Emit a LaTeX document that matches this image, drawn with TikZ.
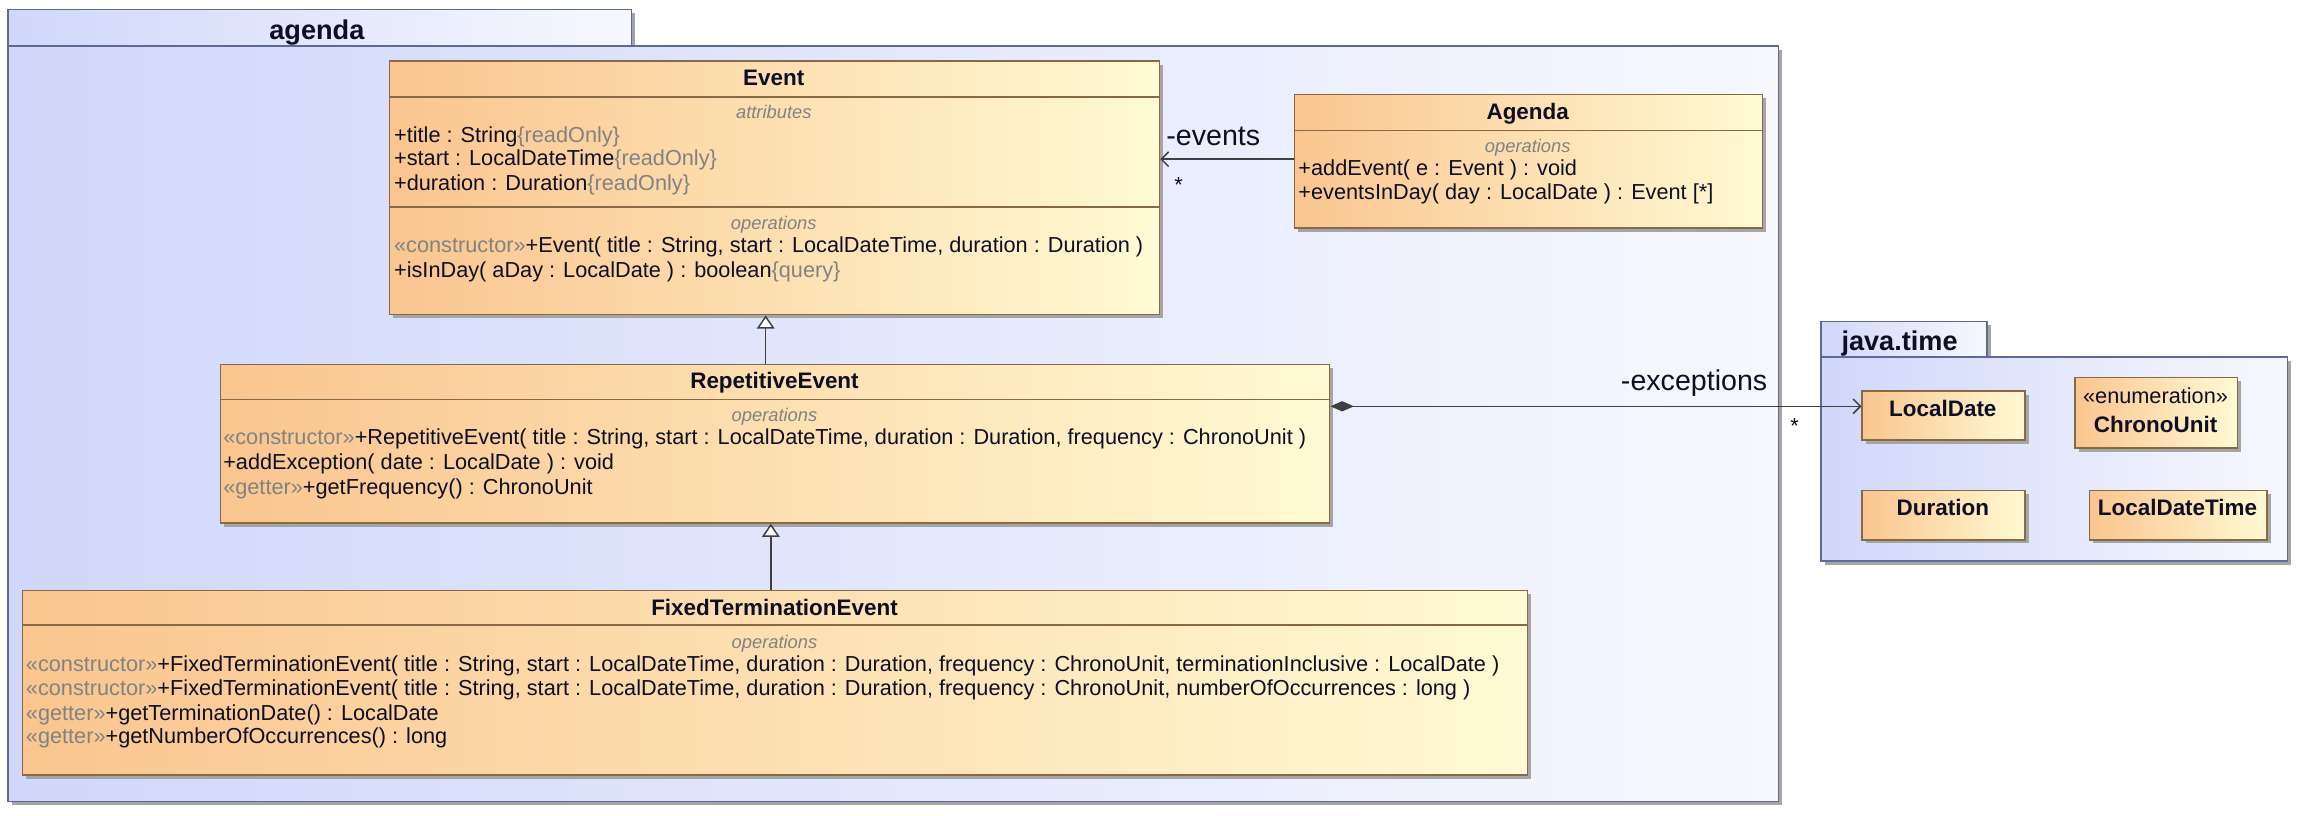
\documentclass[tikz,border=0pt]{standalone}
\usepackage{fontspec}
\setmainfont{Liberation Sans}
\usetikzlibrary{arrows.meta,shadows}
\definecolor{clsL}{RGB}{250,197,143}
\definecolor{clsR}{RGB}{255,250,212}
\definecolor{clsB}{RGB}{135,105,70}
\definecolor{pkgL}{RGB}{208,215,250}
\definecolor{pkgR}{RGB}{247,248,254}
\definecolor{pkgB}{RGB}{95,105,145}
\definecolor{txt}{RGB}{15,15,35}
\definecolor{gry}{RGB}{130,130,130}
\definecolor{shd}{RGB}{165,165,165}
\newcommand{\gr}[1]{\textcolor{gry}{#1}}
\tikzset{
  clsbox/.style={draw=clsB, line width=1pt, left color=clsL, right color=clsR,
    anchor=north west, inner sep=0pt,
    drop shadow={shadow xshift=2.5pt, shadow yshift=-2.5pt, fill=shd, opacity=1}},
  pkgbox/.style={draw=pkgB, line width=1pt, left color=pkgL, right color=pkgR,
    anchor=north west, inner sep=0pt,
    drop shadow={shadow xshift=2.5pt, shadow yshift=-2.5pt, fill=shd, opacity=1}},
  ln/.style={anchor=base west, inner sep=0pt, font=\fontsize{14.8}{17}\selectfont, text=txt},
  ttl/.style={anchor=base, inner sep=0pt, font=\fontsize{15.3}{17}\selectfont\bfseries, text=txt},
  cmp/.style={anchor=base, inner sep=0pt, font=\fontsize{12.5}{14}\selectfont\itshape, text=gry},
  pkgname/.style={anchor=base, inner sep=0pt, font=\fontsize{18.5}{20}\selectfont\bfseries, text=txt},
  rolelbl/.style={inner sep=0pt, font=\fontsize{19.5}{21}\selectfont, text=txt},
  mult/.style={anchor=base, inner sep=0pt, font=\fontsize{14.8}{17}\selectfont, text=txt},
  div/.style={draw=clsB, line width=1pt},
  conn/.style={draw=black!75, line width=1pt},
}
\begin{document}
\begin{tikzpicture}[x=1pt,y=-1pt]
\useasboundingbox[fill=white] (0,0) rectangle (1568,556);

% ---------- package agenda ----------
\node[pkgbox, minimum width=425pt, minimum height=25pt] (agtab) at (5,6) {};
\node[pkgbox, minimum width=1207pt, minimum height=515pt] (agbody) at (5,31) {};
\node[pkgname] (agname) at (216,27) {agenda};

% ---------- package java.time ----------
\node[pkgbox, minimum width=113pt, minimum height=24.5pt] (jttab) at (1241,218.5) {};
\node[pkgbox, minimum width=318pt, minimum height=139pt] (jtbody) at (1241,243) {};
\node[pkgname] (jtname) at (1295,239) {java.time};

% ---------- Event ----------
\node[clsbox, minimum width=525pt, minimum height=173pt] (event) at (265,41) {};
\draw[div] ([yshift=-25pt]event.north west) -- ([yshift=-25pt]event.north east);
\draw[div] ([yshift=-100pt]event.north west) -- ([yshift=-100pt]event.north east);
\node[ttl] (eventT) at (527.5,58.5) {Event};
\node[cmp] (eventA) at (527.5,80.5) {attributes};
\node[ln] (e1) at (268.5,97) {+title : String\gr{\{readOnly\}}};
\node[ln] (e2) at (268.5,113) {+start : LocalDateTime\gr{\{readOnly\}}};
\node[ln] (e3) at (268.5,129.6) {+duration : Duration\gr{\{readOnly\}}};
\node[cmp] (eventO) at (527.5,156.3) {operations};
\node[ln] (e4) at (268.5,172) {\gr{«constructor»}+Event( title : String, start : LocalDateTime, duration : Duration )};
\node[ln] (e5) at (268.5,189) {+isInDay( aDay : LocalDate ) : boolean\gr{\{query\}}};

% ---------- Agenda ----------
\node[clsbox, minimum width=319pt, minimum height=91pt] (agendabox) at (882,64) {};
\draw[div] ([yshift=-25pt]agendabox.north west) -- ([yshift=-25pt]agendabox.north east);
\node[ttl] (agT) at (1041.5,81.5) {Agenda};
\node[cmp] (agO) at (1041.5,103.7) {operations};
\node[ln] (a1) at (885,119.7) {+addEvent( e : Event ) : void};
\node[ln] (a2) at (885,135.8) {+eventsInDay( day : LocalDate ) : Event [*]};

% ---------- RepetitiveEvent ----------
\node[clsbox, minimum width=756pt, minimum height=108pt] (re) at (150,248) {};
\draw[div] ([yshift=-24.5pt]re.north west) -- ([yshift=-24.5pt]re.north east);
\node[ttl] (reT) at (528,265) {RepetitiveEvent};
\node[cmp] (reO) at (528,287.3) {operations};
\node[ln] (r1) at (152,303) {\gr{«constructor»}+RepetitiveEvent( title : String, start : LocalDateTime, duration : Duration, frequency : ChronoUnit )};
\node[ln] (r2) at (152,320) {+addException( date : LocalDate ) : void};
\node[ln] (r3) at (152,337) {\gr{«getter»}+getFrequency() : ChronoUnit};

% ---------- FixedTerminationEvent ----------
\node[clsbox, minimum width=1026pt, minimum height=126pt] (fte) at (15,402) {};
\draw[div] ([yshift=-24pt]fte.north west) -- ([yshift=-24pt]fte.north east);
\node[ttl] (fT) at (528,419.7) {FixedTerminationEvent};
\node[cmp] (fO) at (528,442) {operations};
\node[ln] (f1) at (17.5,458) {\gr{«constructor»}+FixedTerminationEvent( title : String, start : LocalDateTime, duration : Duration, frequency : ChronoUnit, terminationInclusive : LocalDate )};
\node[ln] (f2) at (17.5,474) {\gr{«constructor»}+FixedTerminationEvent( title : String, start : LocalDateTime, duration : Duration, frequency : ChronoUnit, numberOfOccurrences : long )};
\node[ln] (f3) at (17.5,491) {\gr{«getter»}+getTerminationDate() : LocalDate};
\node[ln] (f4) at (17.5,507) {\gr{«getter»}+getNumberOfOccurrences() : long};

% ---------- java.time classes ----------
\node[clsbox, minimum width=111pt, minimum height=33.5pt] (localdate) at (1269,266) {};
\node[ttl] (ldT) at (1324.5,284) {LocalDate};
\node[clsbox, minimum width=111pt, minimum height=48pt] (chrono) at (1414,257) {};
\node[mult] (chS) at (1469.5,275) {«enumeration»};
\node[ttl] (chT) at (1469.5,295) {ChronoUnit};
\node[clsbox, minimum width=111pt, minimum height=33.5pt] (duration) at (1269,334) {};
\node[ttl] (duT) at (1324.5,351.5) {Duration};
\node[clsbox, minimum width=121pt, minimum height=33.5pt] (ldt) at (1424,334) {};
\node[ttl] (ldtT) at (1484.5,351.5) {LocalDateTime};

% ---------- connectors ----------
\coordinate (evy) at (0,108.5);
\draw[conn, -{Straight Barb[length=5pt,width=10pt]}] (agendabox.west |- evy) -- (event.east |- evy);
\node[rolelbl, anchor=base west] (evlbl) at (795,99.5) {-events};
\node[mult] (evm) at (803.5,131) {*};

\coordinate (exy) at (0,277);
\draw[conn, {Diamond[length=16pt,width=7pt]}-{Straight Barb[length=5pt,width=10pt]}] (re.east |- exy) -- (localdate.west |- exy);
\node[rolelbl, anchor=base east] (exlbl) at (1205,266) {-exceptions};
\node[mult] (exm) at (1223.5,295.5) {*};

\coordinate (g1) at (522,0);
\draw[conn, -{Triangle[length=9pt,width=12pt,fill=white]}] (re.north -| g1) -- (event.south -| g1);
\coordinate (g2) at (525.5,0);
\draw[conn, -{Triangle[length=9pt,width=12pt,fill=white]}] (fte.north -| g2) -- (re.south -| g2);
\end{tikzpicture}
\end{document}
